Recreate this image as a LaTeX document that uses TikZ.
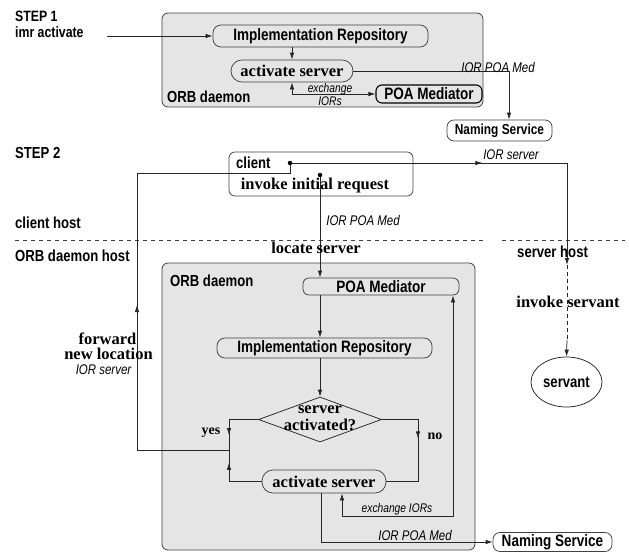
\documentclass[tikz,border=0pt]{standalone}
\usepackage{fontspec}
\setmainfont{Liberation Serif}
\newfontfamily\hv{Liberation Sans}[FakeStretch=0.82]
\usetikzlibrary{arrows.meta,shapes.geometric,decorations.markings}

\begin{document}
\begin{tikzpicture}[x=1pt,y=-1pt,
  >={Latex[length=7pt,width=4.5pt]},
  wire/.style={draw=black!85,line width=0.75pt},
  daemonbg/.style={draw=black!75,fill=black!10,line width=0.8pt,rounded corners=6pt},
  unit/.style={draw=black!75,line width=0.75pt,rounded corners=8pt,inner sep=0pt,
    font=\hv\bfseries\fontsize{16.5}{18}\selectfont},
  actunit/.style={unit,rounded corners=11pt,font=\bfseries\fontsize{16.5}{18}\selectfont},
  sflabel/.style={font=\hv\bfseries\fontsize{16}{18}\selectfont,inner sep=0pt},
  rmlabel/.style={font=\bfseries\fontsize{16.5}{17}\selectfont,inner sep=0pt},
  itlabel/.style={font=\hv\itshape\fontsize{14}{15}\selectfont,inner sep=0pt},
  smalllabel/.style={font=\hv\itshape\fontsize{12.5}{13}\selectfont,inner sep=0pt},
  midarr/.style={postaction={decorate},
    decoration={markings,mark=at position #1 with {\arrow{>}}}},
  dot/.style={circle,fill,inner sep=0pt,minimum size=4.5pt}]
\useasboundingbox (0,0) rectangle (629,552);

% ---- step 1 ----
\node[sflabel,anchor=west,font=\hv\bfseries\fontsize{15}{16}\selectfont] (step1) at (15,16) {STEP 1};
\node[sflabel,anchor=west,font=\hv\bfseries\fontsize{15}{16}\selectfont] (imrcmd) at (15,32.5) {imr activate};
\coordinate (cmd) at (107,36);
\draw[daemonbg] (162,13) rectangle (483,107);
\node[sflabel,anchor=west] (orb1) at (167,97) {ORB daemon};
\node[unit,minimum width=215pt,minimum height=22pt] (imr1) at (320.5,36) {Implementation Repository};
\node[actunit,minimum width=122pt,minimum height=22pt] (act1) at (292,71) {activate server};
\node[unit,draw=black,line width=1.1pt,rounded corners=6pt,minimum width=106pt,minimum height=18pt] (poa1) at (429,94) {POA Mediator};
\node[unit,rounded corners=7pt,minimum width=105pt,minimum height=21pt,
  font=\hv\bfseries\fontsize{14.5}{16}\selectfont] (nam1) at (499.5,130.5) {Naming Service};

\draw[wire,->] (cmd) -- (imr1.west);
\draw[wire,->] (act1.north |- imr1.south) -- (act1.north);
\draw[wire,<->] (act1.south) |- (poa1.west);
\node[smalllabel] (xch1) at (330,89) {exchange};
\node[smalllabel] (xch1b) at (330,101) {IORs};
\coordinate (med1) at (509,71);
\draw[wire,->] (act1.east) -- (med1) -- (med1 |- nam1.north);
\node[itlabel] (medlbl1) at (498,67) {IOR POA Med};

% ---- step 2 ----
\node[sflabel,anchor=west] (step2) at (15,153) {STEP 2};
\node[sflabel,anchor=west] (chost) at (15,223) {client host};
\node[sflabel,anchor=west] (dhost) at (15,256) {ORB daemon host};
\node[sflabel,anchor=west] (shost) at (517,252) {server host};
\draw[black!75,line width=0.7pt,dash pattern=on 4pt off 4pt] (15,240) -- (485,240);
\draw[black!75,line width=0.7pt,dash pattern=on 4pt off 4pt] (502,240) -- (625,240);

% client
\node[draw=black!75,line width=0.75pt,rounded corners=6pt,minimum width=184pt,minimum height=44pt] (client) at (321,174) {};
\node[sflabel,anchor=west] (clientlbl) at (236,163) {client};
\node[rmlabel] (invoke) at (315,186) {invoke initial request};

% orb daemon
\draw[daemonbg] (162,263) rectangle (475,550);
\node[sflabel,anchor=west] (orb2) at (170,281) {ORB daemon};
\node[unit,rounded corners=6pt,minimum width=156pt,minimum height=17pt] (poa2) at (381,286.5) {POA Mediator};
\node[unit,minimum width=215pt,minimum height=20pt] (imr2) at (324.5,348) {Implementation Repository};
\node[draw=black!85,diamond,line width=0.75pt,minimum width=123pt,minimum height=45pt,inner sep=0pt] (check) at (320,419.5) {};
\node[rmlabel,align=center] (checktxt) at (320,418) {server\\activated?};
\node[actunit,minimum width=124pt,minimum height=23pt] (act2) at (324,481.5) {activate server};
\node[unit,rounded corners=7pt,minimum width=119pt,minimum height=19pt] (nam2) at (552.5,542) {Naming Service};

% servant
\node[draw=black!85,ellipse,line width=0.75pt,minimum width=71pt,minimum height=50pt,sflabel] (servant) at (566.5,382) {servant};
\coordinate (srvturn) at (567,163);
\coordinate (srvmid) at (567,265);
\coordinate (srvlow) at (567,340);
\node[dot] (dotA) at (290,163) {};
\node[dot] (dotB) at (320,175) {};

\draw[wire,midarr=190pt,->] (dotA) -- (srvturn) -- (srvmid);
\draw[wire,dash pattern=on 4pt off 3pt] (srvmid) -- (srvlow);
\draw[wire,->] (srvlow) -- (servant.north);
\node[itlabel] (iorsrv) at (511,155) {IOR server};
\node[rmlabel] (invsrv) at (568,302) {invoke servant};

\draw[wire,->] (dotB) -- (dotB |- poa2.north);
\node[itlabel] (medlbl2) at (363,220) {IOR POA Med};
\node[rmlabel] (locate) at (316,248) {locate server};
\draw[wire,->] (dotB |- poa2.south) -- (dotB |- imr2.north);
\draw[wire,->] (check.north |- imr2.south) -- (check.north);

% yes / no
\coordinate (join) at (229,450);
\draw[wire,midarr=0.75] (check.west) -| (join);
\draw[wire,midarr=0.8] (act2.west) -| (join);
\node[rmlabel,font=\bfseries\fontsize{14}{15}\selectfont] (yes) at (211,433) {yes};
\coordinate (nocorner) at (418,419.5);
\draw[wire,midarr=55pt] (check.east) -- (nocorner) -- (nocorner |- act2.east) -- (act2.east);
\node[rmlabel,font=\bfseries\fontsize{14}{15}\selectfont] (no) at (435,436) {no};

% forward new location
\coordinate (fwdA) at (137,450);
\coordinate (fwdB) at (137,173);
\coordinate (fwdC) at (290,173);
\draw[wire,midarr=237pt] (join) -- (fwdA) -- (fwdB) -- (fwdC) -- (dotA);
\node[rmlabel] (fwd1) at (107.5,339) {forward};
\node[rmlabel] (fwd2) at (108.5,354) {new location};
\node[itlabel] (fwd3) at (103.5,370) {IOR server};

% exchange IORs
\coordinate (xa) at (342,516);
\coordinate (xb) at (453,516);
\draw[wire,<->] (act2.south -| xa) -- (xa) -- (xb) -- (xb |- poa2.south);
\node[smalllabel] (xch2) at (397,509) {exchange IORs};

% IOR POA Med to naming service
\coordinate (ya) at (321,542);
\draw[wire,->] (act2.south -| ya) -- (ya) -- (nam2.west);
\node[itlabel] (medlbl3) at (415,535) {IOR POA Med};
\end{tikzpicture}
\end{document}
